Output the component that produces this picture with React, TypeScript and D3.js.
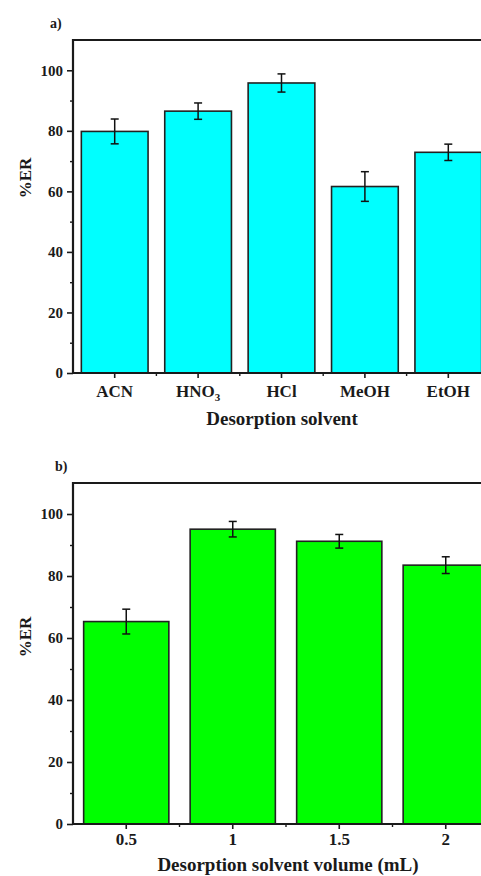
import React, { useEffect, useRef } from 'react';
import * as d3 from 'd3';

// panel a) desorption solvent
const solvents = ['ACN', 'HNO3', 'HCl', 'MeOH', 'EtOH'];
const solventER = [79.8, 86.5, 95.8, 61.6, 72.9];
const solventErr = [4.1, 2.7, 3.0, 4.9, 2.7];

// panel b) desorption solvent volume (mL)
const volumes = ['0.5', '1', '1.5', '2'];
const volumeER = [65.3, 95.1, 91.2, 83.5];
const volumeErr = [4.0, 2.5, 2.2, 2.7];

const yMajor = [0, 20, 40, 60, 80, 100];
const yMinor = [10, 30, 50, 70, 90];
const yMax = 110;

const FONT = '"Liberation Serif", "Times New Roman", serif';
const INK = '#1a1a1a';

type Panel = {
  cats: string[]; vals: number[]; errs: number[]; color: string;
  left: number; right: number; top: number; bottom: number;
  tag: string; tagX: number; tagY: number;
  xTitle: string; xTitleX: number; xTitleY: number; catDy: number; yLabelY: number;
};

function drawPanel(svg: d3.Selection<SVGSVGElement, unknown, null, undefined>, p: Panel) {
  const x = d3.scaleBand().domain(p.cats).range([p.left, p.right]).paddingInner(0.2).paddingOuter(0.1);
  const y = d3.scaleLinear().domain([0, yMax]).range([p.bottom, p.top]);
  const g = svg.append('g');

  // bars
  g.selectAll('rect.bar').data(p.cats).enter().append('rect')
    .attr('x', d => x(d)!).attr('y', (d, i) => y(p.vals[i]))
    .attr('width', x.bandwidth()).attr('height', (d, i) => p.bottom - y(p.vals[i]))
    .attr('fill', p.color).attr('stroke', '#222').attr('stroke-width', 1.6);

  // error bars
  const eb = g.selectAll('g.err').data(p.cats).enter().append('g')
    .attr('stroke', '#111').attr('stroke-width', 1.5);
  eb.append('line').attr('x1', d => x(d)! + x.bandwidth() / 2).attr('x2', d => x(d)! + x.bandwidth() / 2)
    .attr('y1', (d, i) => y(p.vals[i] + p.errs[i])).attr('y2', (d, i) => y(p.vals[i] - p.errs[i]));
  [1, -1].forEach(s => {
    eb.append('line').attr('x1', d => x(d)! + x.bandwidth() / 2 - 4).attr('x2', d => x(d)! + x.bandwidth() / 2 + 4)
      .attr('y1', (d, i) => y(p.vals[i] + s * p.errs[i])).attr('y2', (d, i) => y(p.vals[i] + s * p.errs[i]));
  });

  // left axis
  const ya = g.append('g').attr('transform', `translate(${p.left},0)`)
    .call(d3.axisLeft(y).tickValues(yMajor).tickSize(6).tickPadding(4).tickFormat(d3.format('d')));
  ya.select('.domain').remove();
  ya.selectAll('line').attr('stroke', INK).attr('stroke-width', 1.6);
  ya.selectAll('text').attr('font-family', FONT).attr('font-weight', 'bold').attr('font-size', 15).attr('fill', INK);
  const ym = g.append('g').attr('transform', `translate(${p.left},0)`)
    .call(d3.axisLeft(y).tickValues(yMinor).tickSize(3).tickFormat(() => ''));
  ym.select('.domain').remove();
  ym.selectAll('line').attr('stroke', INK).attr('stroke-width', 1.4);

  // bottom axis
  const xa = g.append('g').attr('transform', `translate(0,${p.bottom})`)
    .call(d3.axisBottom(x).tickSize(5).tickSizeOuter(0));
  xa.select('.domain').remove();
  xa.selectAll('line').attr('stroke', INK).attr('stroke-width', 1.6);
  xa.selectAll('text').attr('y', p.catDy).attr('dy', 0)
    .attr('font-family', FONT).attr('font-weight', 'bold').attr('font-size', 17).attr('fill', INK)
    .each(function (d: any) {
      const m = /^([A-Za-z]+)(\d)$/.exec(d);
      if (!m) return;
      const t = d3.select(this).text('');
      t.append('tspan').text(m[1]);
      t.append('tspan').attr('font-size', 11).attr('dy', 4).text(m[2]);
    });
  for (let i = 1; i < p.cats.length; i++) {
    const mx = p.left + x.step() * i;
    g.append('line').attr('x1', mx).attr('x2', mx).attr('y1', p.bottom).attr('y2', p.bottom + 3)
      .attr('stroke', INK).attr('stroke-width', 1.4);
  }

  // frame (left, top, bottom)
  g.append('path')
    .attr('d', `M${p.right + 40},${y(yMax)}H${p.left}V${p.bottom}H${p.right + 40}`)
    .attr('fill', 'none').attr('stroke', INK).attr('stroke-width', 2.2);

  // titles
  g.append('text').attr('x', p.xTitleX).attr('y', p.xTitleY).attr('text-anchor', 'middle')
    .attr('font-family', FONT).attr('font-weight', 'bold').attr('font-size', 19).attr('fill', INK)
    .text(p.xTitle);
  g.append('text').attr('transform', `translate(31,${p.yLabelY}) rotate(-90)`).attr('text-anchor', 'middle')
    .attr('font-family', FONT).attr('font-weight', 'bold').attr('font-size', 17).attr('fill', INK)
    .text('%ER');
  g.append('text').attr('x', p.tagX).attr('y', p.tagY)
    .attr('font-family', FONT).attr('font-weight', 'bold').attr('font-size', 14).attr('fill', INK)
    .text(p.tag);
}

export default function App() {
  const ref = useRef<SVGSVGElement>(null);
  useEffect(() => {
    if (!ref.current) return;
    const svg = d3.select(ref.current);
    svg.selectAll('*').remove();
    drawPanel(svg, {
      cats: solvents, vals: solventER, errs: solventErr, color: '#00ffff',
      left: 73, right: 490, top: 40, bottom: 373,
      tag: 'a)', tagX: 50, tagY: 28,
      xTitle: 'Desorption solvent', xTitleX: 282, xTitleY: 425, catDy: 24, yLabelY: 178,
    });
    drawPanel(svg, {
      cats: volumes, vals: volumeER, errs: volumeErr, color: '#00ff00',
      left: 73, right: 499, top: 483, bottom: 824,
      tag: 'b)', tagX: 55, tagY: 471,
      xTitle: 'Desorption solvent volume (mL)', xTitleX: 288, xTitleY: 871, catDy: 21, yLabelY: 637,
    });
  }, []);
  return (
    <svg ref={ref} width={481} height={876}
      style={{ position: 'absolute', left: 0, top: 0, background: '#fff', display: 'block' }} />
  );
}
